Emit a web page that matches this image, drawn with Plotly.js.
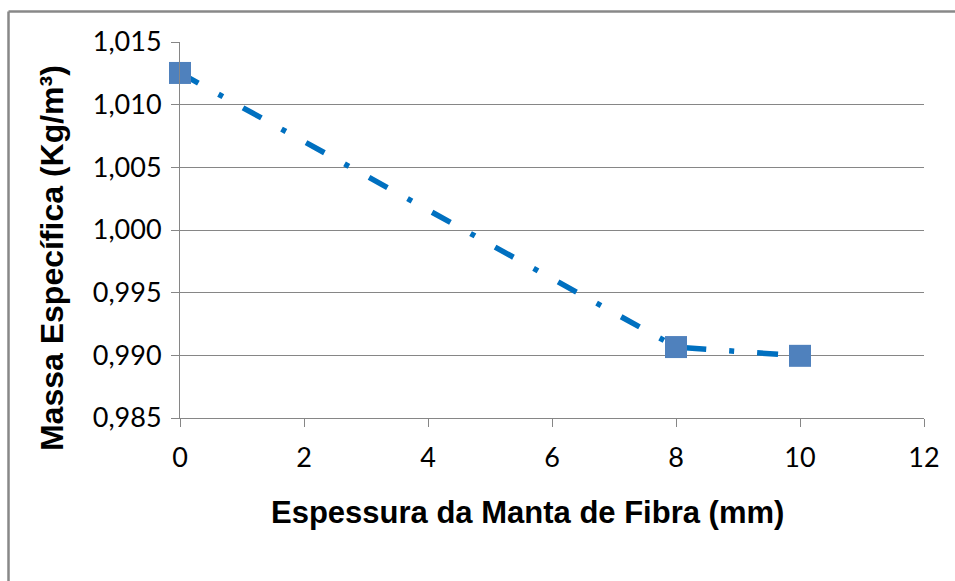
<!DOCTYPE html>
<html>
<head>
<meta charset="utf-8">
<script src="https://cdn.plot.ly/plotly-3.0.1.min.js"></script>
<style>
html,body{margin:0;padding:0;background:#fff;}
#chart{width:955px;height:581px;}
</style>
</head>
<body>
<div id="chart"></div>
<script>
// Data
const espessura = [0, 8, 10];               // mm
const massaEspecifica = [1.01253, 0.99066, 0.98996]; // Kg/m3
const xTicks = [0, 2, 4, 6, 8, 10, 12];
const yTicks = [0.985, 0.990, 0.995, 1.000, 1.005, 1.010, 1.015];
const xTitle = 'Espessura da Manta de Fibra (mm)';
const yTitle = 'Massa Específica (Kg/m³)';

const trace = {
  x: espessura,
  y: massaEspecifica,
  type: 'scatter',
  mode: 'lines+markers',
  line: {color: '#0070C0', width: 5.5, shape: 'linear', dash: '21px,23px,5px,23px'},
  marker: {symbol: 'square', size: 22, color: '#4F81BD', line: {width: 0}},
  showlegend: false,
  cliponaxis: false
};

const gridColor = '#868686';
const tickFont = {family: 'Lato, "Open Sans", sans-serif', size: 27, color: '#000'};
const titleFontFamily = '"Liberation Sans", Arial, sans-serif';
const layout = {
  width: 955, height: 581,
  margin: {l: 180, r: 31, t: 42, b: 163},
  paper_bgcolor: '#ffffff',
  plot_bgcolor: '#ffffff',
  separators: ',.',
  font: {family: 'Lato, "Open Sans", sans-serif', color: '#000'},
  xaxis: {
    range: [0, 12],
    tickvals: xTicks,
    ticks: 'outside', ticklen: 8, tickcolor: gridColor, tickwidth: 1,
    ticklabelstandoff: 8,
    showgrid: false, zeroline: false,
    showline: true, linecolor: gridColor, linewidth: 1,
    tickfont: tickFont
  },
  yaxis: {
    range: [0.985, 1.015],
    tickvals: yTicks,
    tickformat: '.3f',
    ticks: 'outside', ticklen: 8, tickcolor: gridColor, tickwidth: 1,
    ticklabelstandoff: 4,
    showgrid: true, gridcolor: gridColor, gridwidth: 1,
    zeroline: false,
    showline: true, linecolor: gridColor, linewidth: 1,
    tickfont: tickFont
  },
  annotations: [
    {text: '<b>' + xTitle + '</b>', xref: 'paper', yref: 'paper', x: 0.467, y: -0.25,
     xanchor: 'center', yanchor: 'middle', showarrow: false,
     font: {family: titleFontFamily, size: 31, color: '#000'}},
    {text: '<b>' + yTitle + '</b>', xref: 'paper', yref: 'paper', x: -0.172, y: 0.4255,
     xanchor: 'center', yanchor: 'middle', showarrow: false, textangle: -90,
     font: {family: titleFontFamily, size: 32, color: '#000'}}
  ],
  shapes: [
    {type: 'line', xref: 'paper', yref: 'paper', x0: -0.2305, x1: -0.2305, y0: -0.5, y1: 1.0811,
     line: {color: '#888888', width: 2.5}},
    {type: 'line', xref: 'paper', yref: 'paper', x0: -0.2305, x1: 1.1, y0: 1.0811, y1: 1.0811,
     line: {color: '#888888', width: 2.5}}
  ]
};

Plotly.newPlot('chart', [trace], layout, {staticPlot: true, displayModeBar: false});
</script>
</body>
</html>
